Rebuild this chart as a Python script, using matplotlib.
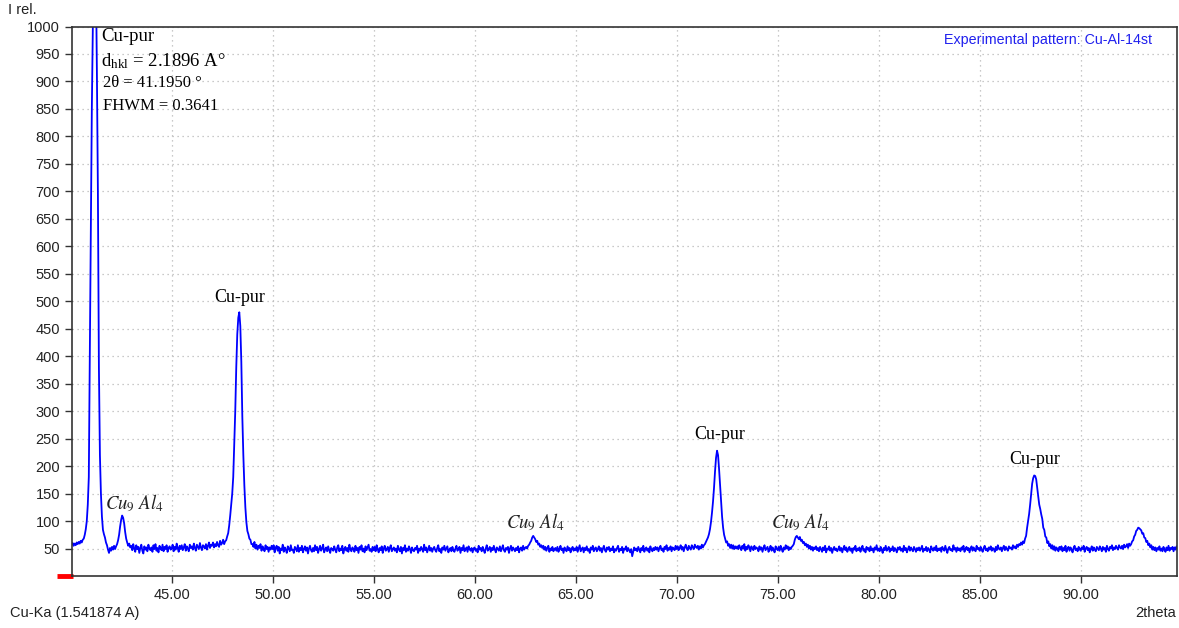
import matplotlib
matplotlib.use("Agg")
import matplotlib.pyplot as plt
import numpy as np

# XRD pattern, one row per degree, step 0.05 deg
start_2theta = 40.0
step_2theta = 0.05
intensity = [
    # 40
    68, 57, 60, 55, 59, 56, 61, 58, 62, 59, 64, 61, 66, 68, 75, 85, 100, 130, 180, 400,
    # 41
    620, 850, 1000, 1150, 1200, 1100, 920, 700, 380, 220, 150, 108, 84, 76, 70, 61, 56, 48, 42, 51,
    # 42
    46, 53, 48, 55, 49, 54, 58, 65, 75, 90, 102, 110, 106, 96, 80, 68, 61, 55, 59, 52,
    # 43
    55, 47, 58, 50, 44, 56, 49, 53, 42, 51, 57, 46, 41, 54, 48, 52, 45, 57, 50, 47,
    # 44
    52, 44, 56, 49, 58, 46, 51, 43, 55, 50, 47, 57, 45, 53, 49, 56, 44, 51, 54, 48,
    # 45
    50, 57, 45, 53, 48, 59, 51, 44, 55, 49, 56, 47, 52, 58, 46, 54, 50, 45, 57, 51,
    # 46
    54, 48, 59, 51, 46, 57, 53, 49, 60, 52, 47, 56, 54, 50, 58, 48, 55, 61, 51, 57,
    # 47
    55, 61, 52, 58, 54, 62, 56, 53, 64, 57, 60, 66, 58, 63, 65, 72, 78, 92, 110, 130,
    # 48
    150, 180, 240, 300, 380, 440, 470, 480, 455, 390, 290, 220, 165, 125, 98, 82, 76, 68, 66, 58,
    # 49
    58, 53, 62, 50, 57, 48, 55, 51, 58, 46, 54, 50, 45, 56, 49, 53, 44, 52, 48, 55,
    # 50
    49, 56, 43, 51, 55, 46, 53, 41, 50, 47, 57, 44, 52, 48, 42, 54, 50, 45, 56, 47,
    # 51
    48, 42, 53, 50, 45, 56, 44, 51, 47, 55, 43, 49, 54, 46, 52, 41, 50, 55, 47, 44,
    # 52
    51, 45, 56, 47, 53, 42, 49, 55, 46, 50, 57, 43, 48, 52, 45, 54, 47, 42, 51, 49,
    # 53
    46, 54, 48, 43, 52, 56, 45, 50, 47, 55, 41, 49, 53, 46, 51, 44, 57, 48, 45, 52,
    # 54
    49, 44, 55, 47, 51, 42, 53, 48, 56, 45, 50, 43, 54, 47, 52, 57, 46, 49, 44, 53,
    # 55
    47, 53, 45, 56, 49, 43, 51, 47, 54, 42, 50, 55, 46, 48, 53, 44, 51, 56, 45, 49,
    # 56
    52, 46, 50, 43, 55, 48, 45, 53, 41, 51, 47, 56, 44, 50, 46, 54, 49, 42, 52, 47,
    # 57
    45, 51, 48, 55, 42, 50, 46, 53, 49, 44, 57, 47, 52, 43, 49, 55, 46, 51, 44, 50,
    # 58
    53, 47, 44, 51, 56, 45, 49, 42, 52, 48, 55, 46, 50, 54, 43, 48, 51, 45, 53, 47,
    # 59
    44, 50, 55, 46, 49, 53, 42, 51, 47, 56, 45, 48, 52, 44, 54, 49, 46, 51, 43, 50,
    # 60
    52, 46, 49, 43, 55, 48, 51, 45, 53, 47, 42, 50, 56, 46, 49, 53, 44, 51, 47, 55,
    # 61
    48, 43, 52, 49, 46, 54, 45, 50, 56, 47, 44, 51, 48, 53, 42, 50, 55, 46, 52, 49,
    # 62
    45, 51, 47, 54, 43, 50, 52, 46, 55, 48, 51, 53, 50, 55, 57, 61, 64, 70, 73, 70,
    # 63
    67, 62, 64, 57, 59, 53, 56, 51, 55, 48, 53, 46, 51, 55, 44, 50, 47, 53, 45, 49,
    # 64
    51, 46, 53, 44, 49, 55, 47, 50, 42, 52, 48, 45, 54, 47, 51, 43, 49, 53, 46, 50,
    # 65
    47, 53, 44, 50, 56, 45, 49, 52, 43, 51, 47, 54, 46, 49, 42, 52, 48, 55, 45, 50,
    # 66
    52, 45, 49, 54, 46, 51, 43, 50, 55, 47, 44, 52, 48, 53, 45, 50, 47, 54, 43, 49,
    # 67
    46, 51, 55, 44, 49, 47, 53, 42, 50, 48, 54, 45, 51, 47, 43, 49, 36, 44, 52, 47,
    # 68
    50, 45, 53, 48, 43, 51, 47, 55, 44, 49, 52, 46, 50, 43, 54, 48, 45, 51, 47, 53,
    # 69
    48, 52, 45, 51, 55, 47, 50, 44, 53, 49, 56, 46, 51, 48, 54, 45, 52, 50, 47, 55,
    # 70
    49, 54, 47, 51, 56, 48, 53, 45, 52, 57, 50, 47, 55, 51, 48, 56, 52, 49, 57, 53,
    # 71
    51, 55, 48, 54, 50, 57, 52, 56, 58, 62, 66, 70, 76, 85, 98, 115, 135, 160, 190, 215,
    # 72
    228, 220, 195, 165, 135, 108, 88, 75, 68, 61, 63, 55, 58, 51, 57, 50, 56, 49, 54, 50,
    # 73
    54, 49, 56, 51, 47, 55, 50, 58, 46, 53, 49, 56, 52, 45, 54, 50, 47, 55, 49, 52,
    # 74
    50, 45, 54, 48, 52, 44, 51, 56, 47, 50, 53, 44, 49, 55, 46, 52, 48, 43, 54, 50,
    # 75
    47, 53, 46, 55, 49, 44, 52, 48, 56, 50, 54, 47, 52, 49, 53, 55, 58, 66, 71, 73,
    # 76
    70, 67, 71, 64, 66, 60, 62, 56, 59, 53, 57, 50, 55, 48, 53, 46, 52, 49, 54, 47,
    # 77
    51, 45, 53, 49, 44, 52, 47, 55, 43, 50, 48, 54, 46, 51, 42, 49, 53, 47, 50, 45,
    # 78
    49, 54, 46, 51, 43, 50, 55, 47, 52, 44, 49, 53, 46, 50, 42, 51, 48, 55, 45, 50,
    # 79
    47, 52, 44, 50, 55, 46, 49, 43, 53, 48, 51, 45, 54, 47, 50, 43, 52, 48, 56, 46,
    # 80
    50, 45, 53, 48, 42, 51, 47, 55, 46, 49, 53, 44, 50, 47, 54, 45, 51, 48, 43, 52,
    # 81
    48, 53, 46, 50, 44, 55, 47, 51, 43, 49, 54, 46, 52, 48, 45, 53, 49, 44, 51, 47,
    # 82
    52, 46, 50, 55, 44, 49, 47, 53, 45, 51, 48, 43, 54, 49, 46, 52, 47, 55, 45, 50,
    # 83
    47, 51, 44, 53, 49, 46, 55, 48, 42, 50, 53, 47, 49, 45, 56, 48, 51, 44, 52, 47,
    # 84
    50, 45, 52, 48, 55, 44, 49, 53, 47, 51, 43, 50, 54, 46, 52, 48, 45, 55, 49, 51,
    # 85
    46, 53, 48, 44, 51, 55, 47, 50, 45, 52, 48, 54, 46, 51, 49, 44, 53, 47, 56, 50,
    # 86
    48, 52, 45, 51, 55, 47, 53, 49, 46, 54, 50, 52, 48, 56, 51, 54, 50, 57, 53, 58,
    # 87
    56, 61, 57, 63, 60, 68, 73, 88, 100, 113, 130, 150, 168, 178, 183, 182, 176, 160, 145, 130,
    # 88
    122, 112, 104, 88, 84, 72, 70, 60, 63, 54, 58, 50, 56, 48, 54, 46, 52, 49, 45, 53,
    # 89
    48, 54, 45, 51, 47, 55, 44, 50, 53, 46, 52, 48, 43, 51, 55, 47, 50, 45, 53, 49,
    # 90
    46, 52, 49, 55, 44, 50, 53, 47, 51, 43, 49, 54, 46, 52, 48, 45, 53, 50, 47, 54,
    # 91
    50, 45, 53, 48, 51, 44, 55, 49, 46, 53, 50, 56, 47, 52, 49, 55, 51, 48, 56, 52,
    # 92
    50, 55, 49, 57, 52, 54, 58, 51, 59, 55, 58, 63, 65, 72, 75, 82, 84, 88, 87, 85,
    # 93
    83, 77, 78, 70, 69, 62, 64, 56, 59, 52, 56, 48, 53, 47, 52, 45, 51, 48, 54, 46,
    # 94
    50, 45, 53, 48, 44, 52, 47, 55, 46, 51, 49, 53, 45, 52, 48, 54, 50,
]
two_theta = start_2theta + step_2theta * np.arange(len(intensity))

# peak labels (text anchor positions in data units)
cu_labels_x = [48.39, 72.15, 87.74]
cu_labels_y = [507, 257, 212]
al_labels_x = [43.14, 63.0, 76.11]
al_labels_y = [133, 98, 98]

xlim = (40.07, 94.77)
ylim = (0, 1000)
xticks = [45, 50, 55, 60, 65, 70, 75, 80, 85, 90]
yticks = list(range(50, 1001, 50))

plt.rcParams["font.family"] = "Liberation Sans"
plt.rcParams["mathtext.fontset"] = "stix"

fig = plt.figure(figsize=(11.79, 6.28), dpi=100)
ax = fig.add_axes([0.0611, 0.0828, 0.9372, 0.875])

ax.plot(two_theta, intensity, color="#0000ff", lw=1.3)
ax.set_xlim(*xlim)
ax.set_ylim(*ylim)
ax.set_xticks(xticks)
ax.set_xticklabels(["%.2f" % t for t in xticks])
ax.set_yticks(yticks)
ax.tick_params(labelsize=10.5, length=5, width=1, color="#333333", labelcolor="#222222")
ax.grid(True, linestyle=(0, (1, 3)), color="#b8b8b8", lw=0.9)
for s in ax.spines.values():
    s.set_color("#333333")
    s.set_linewidth(1.2)

# red zero marker
ax.plot([-0.014, 0.001], [0, 0], transform=ax.transAxes, color="#ff0000", lw=3.5,
        clip_on=False, solid_capstyle="butt")

serif = "Liberation Serif"
ax.text(41.51, 981, "Cu-pur", family=serif, fontsize=13.5, va="center", ha="left")
ax.text(41.51, 937, r"$\mathregular{d_{hkl}}$ = 2.1896 A°", family=serif, fontsize=13.5,
        va="center", ha="left")
ax.text(41.6, 897, "2θ = 41.1950 °", family=serif, fontsize=12, va="center", ha="left")
ax.text(41.6, 855, "FHWM = 0.3641", family=serif, fontsize=12, va="center", ha="left")

for x, y in zip(cu_labels_x, cu_labels_y):
    ax.text(x, y, "Cu-pur", family=serif, fontsize=13, ha="center", va="center")
for x, y in zip(al_labels_x, al_labels_y):
    ax.text(x, y, r"$Cu_9\ Al_4$", fontsize=13.5, ha="center", va="center", color="#222222")

ax.text(0.977, 0.975, "Experimental pattern: Cu-Al-14st", transform=ax.transAxes,
        ha="right", va="center", fontsize=10.3, color="#2020ee")

fig.text(8 / 1179, 1 - 10 / 628, "I rel.", fontsize=10.5, va="center", ha="left", color="#222222")
fig.text(10 / 1179, 1 - 613 / 628, "Cu-Ka (1.541874 A)", fontsize=10.5, va="center", ha="left",
         color="#222222")
fig.text(1176 / 1179, 1 - 613 / 628, "2theta", fontsize=10.5, va="center", ha="right",
         color="#222222")

fig.savefig("out.png", dpi=100)
